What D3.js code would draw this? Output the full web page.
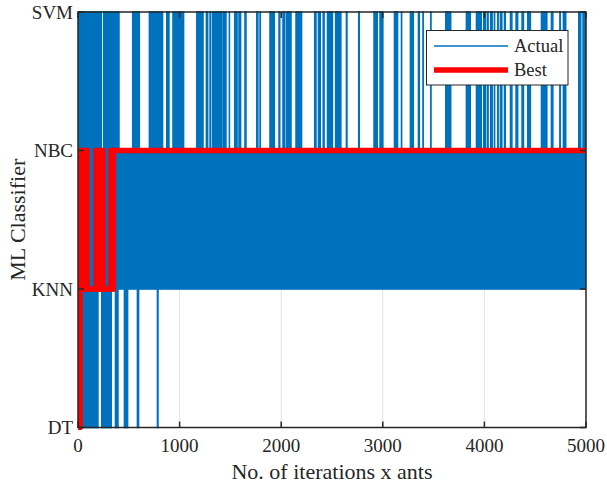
<!DOCTYPE html>
<html>
<head>
<meta charset="utf-8">
<script src="https://cdn.jsdelivr.net/npm/d3@7/dist/d3.min.js"></script>
<style>
  html, body { margin: 0; padding: 0; background: #fff; }
  svg { display: block; }
  text { font-family: "Liberation Serif", "DejaVu Serif", serif; fill: #262626; }
</style>
</head>
<body>
<svg id="chart" width="607" height="487"></svg>
<script>
// ---------------- data ----------------
const categories = ["DT", "KNN", "NBC", "SVM"];
const xTicks = [0, 1000, 2000, 3000, 4000, 5000];
const xDomain = [0, 5000];

// "Actual": rapid oscillation between KNN and NBC over the whole run
const actualBand = [[0, 5000, "KNN", "NBC"]];
// iteration ranges in which Actual jumps up to SVM
const svmVisits = [
  [0, 229], [253, 403], [539, 603], [703, 832], [874, 895], [935, 1039],
  [1169, 1230], [1264, 1276], [1300, 1303], [1324, 1417], [1434, 1456],
  [1490, 1490], [1543, 1565], [1585, 1600], [1644, 1653], [1760, 1770],
  [1792, 1794], [1890, 1932], [1979, 1985], [2018, 2030], [2050, 2096],
  [2146, 2200], [2330, 2342], [2367, 2384], [2414, 2422], [2456, 2504],
  [2536, 2587], [2642, 2647], [2763, 2768], [2914, 2945], [2973, 3000],
  [3115, 3145], [3184, 3185], [3272, 3300], [3351, 3359], [3396, 3398],
  [3472, 3474], [3620, 3668], [3823, 3861], [3922, 3969], [3994, 4009],
  [4030, 4036], [4063, 4076], [4099, 4100], [4132, 4135], [4158, 4171],
  [4198, 4205], [4257, 4270], [4312, 4327], [4371, 4384], [4427, 4452],
  [4562, 4614], [4660, 4673], [4743, 4746], [4778, 4800], [4929, 4948],
  [4971, 5000]
];
// iteration ranges in which Actual drops down to DT
const dtVisits = [
  [37, 196], [234, 327], [369, 393], [457, 488], [585, 596], [782, 787]
];

// "Best": step path, plus ranges where it alternates rapidly KNN <-> NBC
const bestPath = [
  [1, "DT"], [20, "DT"], [20, "KNN"], [344, "KNN"], [344, "NBC"], [5000, "NBC"]
];
const bestAlternation = [[20, 88], [177, 246], [324, 344]];

const legendItems = [
  { name: "Actual", color: "#0072BD", width: 1.5 },
  { name: "Best", color: "#FF0000", width: 5.5 }
];

// ---------------- layout ----------------
const svg = d3.select("#chart");
const plot = { left: 78, right: 586, top: 12, bottom: 427.5 };
const blue = "#0072BD", red = "#FF0000", axisColor = "#262626";

const x = d3.scaleLinear().domain(xDomain).range([plot.left, plot.right]);
const y = d3.scalePoint().domain(categories).range([plot.bottom, plot.top]);

svg.append("defs").append("clipPath").attr("id", "clip")
  .append("rect")
  .attr("x", plot.left).attr("y", plot.top - 3)
  .attr("width", plot.right - plot.left).attr("height", plot.bottom - plot.top + 6);

// grid
svg.append("g").selectAll("line")
  .data(xTicks.slice(1, -1)).join("line")
  .attr("x1", d => x(d)).attr("x2", d => x(d))
  .attr("y1", plot.top).attr("y2", plot.bottom)
  .attr("stroke", "#e3e3e3").attr("stroke-width", 1);

const data = svg.append("g").attr("clip-path", "url(#clip)");
const lw = 0.8; // half line width of Actual

// Actual: band
data.append("g").selectAll("rect").data(actualBand).join("rect")
  .attr("x", d => x(d[0]) - lw)
  .attr("width", d => x(d[1]) - x(d[0]) + 2 * lw)
  .attr("y", d => y(d[3]) - lw)
  .attr("height", d => y(d[2]) - y(d[3]) + 2 * lw)
  .attr("fill", blue);

// Actual: jumps to SVM
data.append("g").selectAll("rect").data(svmVisits).join("rect")
  .attr("x", d => x(d[0]) - lw)
  .attr("width", d => x(d[1]) - x(d[0]) + 2 * lw)
  .attr("y", y("SVM") - lw)
  .attr("height", y("NBC") - y("SVM") + 2 * lw)
  .attr("fill", blue);

// Actual: drops to DT
data.append("g").selectAll("rect").data(dtVisits).join("rect")
  .attr("x", d => x(d[0]) - lw)
  .attr("width", d => x(d[1]) - x(d[0]) + 2 * lw)
  .attr("y", y("KNN") - lw)
  .attr("height", y("DT") - y("KNN") + 2 * lw)
  .attr("fill", blue);

// Best
const bw = 5.5;
data.append("g").selectAll("rect").data(bestAlternation).join("rect")
  .attr("x", d => x(d[0]) - bw / 2)
  .attr("width", d => x(d[1]) - x(d[0]) + bw)
  .attr("y", y("NBC") - bw / 2)
  .attr("height", y("KNN") - y("NBC") + bw)
  .attr("rx", 1.5)
  .attr("fill", red);

data.append("path")
  .datum(bestPath)
  .attr("d", d3.line().x(d => x(d[0])).y(d => y(d[1])))
  .attr("fill", "none").attr("stroke", red)
  .attr("stroke-width", bw).attr("stroke-linejoin", "round");

// axes frame
const frame = svg.append("g");
frame.append("rect")
  .attr("x", plot.left).attr("y", plot.top)
  .attr("width", plot.right - plot.left).attr("height", plot.bottom - plot.top)
  .attr("fill", "none").attr("stroke", axisColor).attr("stroke-width", 1.5);

// x ticks (inward, bottom and top)
const tl = 6;
frame.append("g").selectAll("line").data(xTicks).join("line")
  .attr("x1", d => x(d)).attr("x2", d => x(d))
  .attr("y1", plot.bottom).attr("y2", plot.bottom - tl)
  .attr("stroke", axisColor).attr("stroke-width", 1.5);
frame.append("g").selectAll("line").data(xTicks).join("line")
  .attr("x1", d => x(d)).attr("x2", d => x(d))
  .attr("y1", plot.top).attr("y2", plot.top + tl)
  .attr("stroke", axisColor).attr("stroke-width", 1.5);
// y ticks
frame.append("g").selectAll("line").data(categories).join("line")
  .attr("x1", plot.left).attr("x2", plot.left + tl)
  .attr("y1", d => y(d)).attr("y2", d => y(d))
  .attr("stroke", axisColor).attr("stroke-width", 1.5);
frame.append("g").selectAll("line").data(categories).join("line")
  .attr("x1", plot.right).attr("x2", plot.right - tl)
  .attr("y1", d => y(d)).attr("y2", d => y(d))
  .attr("stroke", axisColor).attr("stroke-width", 1.5);

// tick labels
svg.append("g").selectAll("text").data(xTicks).join("text")
  .attr("x", d => x(d)).attr("y", 452)
  .attr("text-anchor", "middle").attr("font-size", 19)
  .text(d => d);
svg.append("g").selectAll("text").data(categories).join("text")
  .attr("x", 73).attr("y", d => y(d) + 6.5)
  .attr("text-anchor", "end").attr("font-size", 19)
  .text(d => d);

// axis titles
svg.append("text")
  .attr("x", (plot.left + plot.right) / 2).attr("y", 479)
  .attr("text-anchor", "middle").attr("font-size", 22)
  .text("No. of iterations x ants");
svg.append("text")
  .attr("transform", `translate(25,${(plot.top + plot.bottom) / 2}) rotate(-90)`)
  .attr("text-anchor", "middle").attr("font-size", 22)
  .text("ML Classifier");

// legend
const lg = svg.append("g");
lg.append("rect")
  .attr("x", 426.5).attr("y", 30.5).attr("width", 141.5).attr("height", 54.5)
  .attr("fill", "#fff").attr("stroke", axisColor).attr("stroke-width", 1);
const li = lg.selectAll("g.item").data(legendItems).join("g")
  .attr("transform", (d, i) => `translate(0,${46 + i * 24})`);
li.append("line")
  .attr("x1", 434).attr("x2", 508).attr("y1", 0).attr("y2", 0)
  .attr("stroke", d => d.color).attr("stroke-width", d => d.width);
li.append("text")
  .attr("x", 514).attr("y", 6.3).attr("font-size", 18.5)
  .text(d => d.name);
</script>
</body>
</html>
